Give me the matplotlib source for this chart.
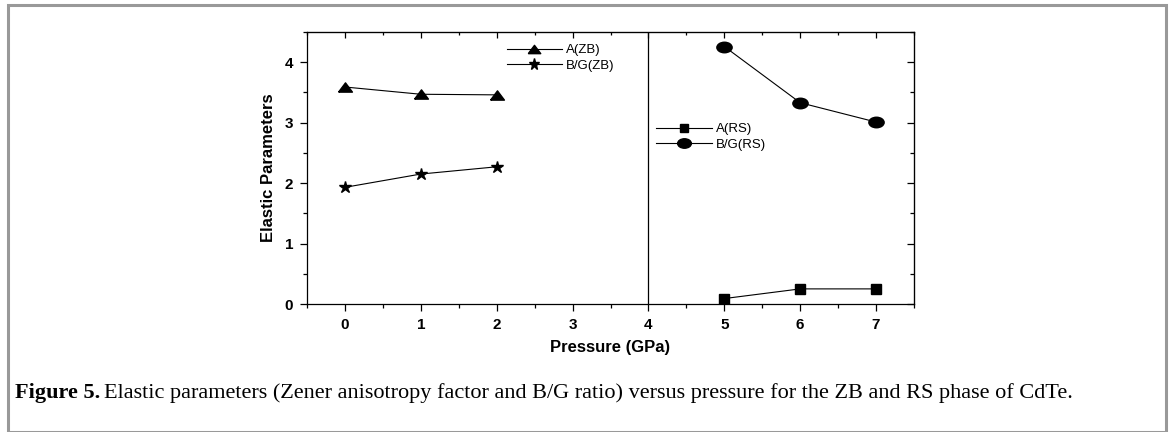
import numpy as np
import matplotlib
matplotlib.use('Agg')
import matplotlib.pyplot as plt
from matplotlib.path import Path
from matplotlib.transforms import Affine2D
from matplotlib.patches import Rectangle

# Data
p_zb = [0, 1, 2]
a_zb = [3.59, 3.47, 3.46]
bg_zb = [1.93, 2.15, 2.27]

p_rs = [5, 6, 7]
a_rs = [0.09, 0.25, 0.25]
bg_rs = [4.26, 3.33, 3.01]

plt.rcParams['font.family'] = ['Liberation Sans', 'DejaVu Sans']

fig = plt.figure(figsize=(11.71, 4.32), dpi=100)
ax = fig.add_axes([307 / 1171, 1 - 304 / 432, 607 / 1171, 272 / 432])

# squashed markers like the scanned original
ellipse = Affine2D().scale(1.45, 1.0).transform_path(Path.unit_circle())
tri = Path([(-1.2, -0.8), (1.2, -0.8), (0, 0.8), (-1.2, -0.8)])

line_kw = dict(color='black', lw=0.8)
l1, = ax.plot(p_zb, a_zb, marker=tri, ms=10, label='A(ZB)', **line_kw)
l2, = ax.plot(p_zb, bg_zb, marker='*', ms=9, label='B/G(ZB)', **line_kw)
l3, = ax.plot(p_rs, a_rs, marker='s', ms=6.5, label='A(RS)', **line_kw)
l4, = ax.plot(p_rs, bg_rs, marker=ellipse, ms=11, label='B/G(RS)', **line_kw)

ax.axvline(4, color='black', lw=0.9)

ax.set_xlim(-0.5, 7.5)
ax.set_ylim(0, 4.5)
ax.set_xticks(range(0, 8))
ax.set_yticks(range(0, 5))
ax.set_xticks(np.arange(-0.5, 7.6, 0.5), minor=True)
ax.set_yticks(np.arange(0, 4.6, 0.5), minor=True)
ax.tick_params(which='major', direction='out', length=5, width=0.9, labelsize=11, pad=5)
ax.tick_params(which='minor', direction='out', length=3, width=0.9)
for lab in ax.get_xticklabels() + ax.get_yticklabels():
    lab.set_fontweight('bold')
for s in ax.spines.values():
    s.set_linewidth(0.9)

# mirrored ticks pointing inward on top and right
top = ax.secondary_xaxis('top')
top.set_xticks(range(0, 8))
top.set_xticks(np.arange(-0.5, 7.6, 0.5), minor=True)
top.tick_params(which='major', direction='in', length=4, width=0.9, labeltop=False)
top.tick_params(which='minor', direction='in', length=2.5, width=0.9)
right = ax.secondary_yaxis('right')
right.set_yticks(range(0, 5))
right.set_yticks(np.arange(0, 4.6, 0.5), minor=True)
right.tick_params(which='major', direction='in', length=5, width=0.9, labelright=False)
right.tick_params(which='minor', direction='in', length=3, width=0.9)

ax.set_xlabel('Pressure (GPa)', fontsize=12, fontweight='bold', labelpad=6)
ax.set_ylabel('Elastic Parameters', fontsize=12, fontweight='bold', labelpad=6)

leg_kw = dict(loc='upper left', frameon=False, fontsize=9.5, handlelength=4.2,
              handletextpad=0.3, labelspacing=0.25, borderaxespad=0, markerscale=0.9)
leg1 = ax.legend(handles=[l1, l2], bbox_to_anchor=(0.32, 0.975), **leg_kw)
ax.add_artist(leg1)
ax.legend(handles=[l3, l4], bbox_to_anchor=(0.567, 0.685), **leg_kw)

# gray border around the figure panel
fig.patches.append(Rectangle((8 / 1171, 0.0), 1158 / 1171, 427 / 432,
                             transform=fig.transFigure, fill=False,
                             edgecolor='#999999', lw=2.2))

fig.text(15 / 1171, 1 - 393 / 432, 'Figure 5.', fontsize=16, fontweight='bold',
         family='Liberation Serif', va='center')
fig.text(104 / 1171, 1 - 393 / 432,
         'Elastic parameters (Zener anisotropy factor and B/G ratio) versus pressure '
         'for the ZB and RS phase of CdTe.',
         fontsize=16, family='Liberation Serif', va='center')

fig.savefig('out.png', dpi=100)
